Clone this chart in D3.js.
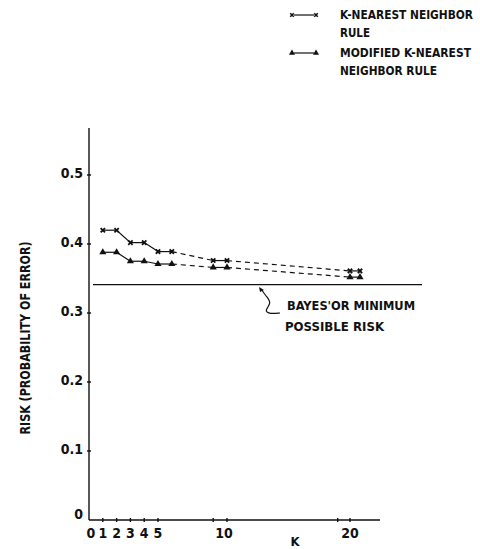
<!DOCTYPE html>
<html>
<head>
<meta charset="utf-8">
<script src="https://cdn.jsdelivr.net/npm/d3@7"></script>
<style>
  body { margin: 0; background: #fff; }
  text { font-family: "DejaVu Sans Condensed", "Liberation Sans Narrow", sans-serif; font-weight: bold; fill: #111; }
</style>
</head>
<body>
<div id="chart"></div>
<script>
// data
const kValues = [1, 2, 3, 4, 5, 6, 9, 10, 20, 21];
const knnRisk = [0.420, 0.420, 0.402, 0.402, 0.389, 0.389, 0.376, 0.376, 0.361, 0.361];
const modKnnRisk = [0.388, 0.388, 0.375, 0.375, 0.371, 0.371, 0.366, 0.366, 0.352, 0.352];
const bayesRisk = 0.341;
const yTicks = [0, 0.1, 0.2, 0.3, 0.4, 0.5];
const xTicks = [1, 2, 3, 4, 5, 9, 10, 19, 20];
const xTickLabels = { 0: "0", 1: "1", 2: "2", 3: "3", 4: "4", 5: "5", 10: "10", 20: "20" };
// segments: true = solid, false = dashed (between index i and i+1)
const solidSeg = [true, true, true, true, true, false, true, false, true];

const width = 480, height = 549;

const svg = d3.select("#chart")
  .append("svg")
    .attr("width", width)
    .attr("height", height);

// scales (the original's K axis is a bit squeezed past 10)
const x = d3.scaleLinear()
  .domain([0, 10, 20, 23])
  .range([89, 227, 350, 380]);

const y = d3.scaleLinear()
  .domain([0, 0.5])
  .range([520, 175]);

const ink = "#111";

// y axis line
svg.append("line")
  .attr("x1", x(0)).attr("x2", x(0))
  .attr("y1", y(0)).attr("y2", 128)
  .attr("stroke", ink).attr("stroke-width", 1.4);

// x axis line
svg.append("line")
  .attr("x1", x(0)).attr("x2", x(23))
  .attr("y1", y(0)).attr("y2", y(0))
  .attr("stroke", ink).attr("stroke-width", 1.4);

// y ticks
svg.selectAll(".ytick")
  .data(yTicks.filter(d => d > 0))
  .join("line")
    .attr("x1", x(0) - 2).attr("x2", x(0) + 2)
    .attr("y1", d => y(d)).attr("y2", d => y(d))
    .attr("stroke", ink).attr("stroke-width", 1.4);

svg.selectAll(".ylab")
  .data(yTicks)
  .join("text")
    .attr("x", x(0) - 6)
    .attr("y", d => d === 0 ? y(d) - 6 : y(d) - 2)
    .attr("dy", "0.35em")
    .attr("text-anchor", "end")
    .style("font-size", "14px")
    .text(d => d === 0 ? "0" : d3.format(".1f")(d));

// x ticks
svg.selectAll(".xtick")
  .data(xTicks)
  .join("line")
    .attr("x1", d => x(d)).attr("x2", d => x(d))
    .attr("y1", y(0) - 2).attr("y2", y(0) + 2)
    .attr("stroke", ink).attr("stroke-width", 1.4);

svg.selectAll(".xlab")
  .data(Object.keys(xTickLabels).map(Number))
  .join("text")
    .attr("x", d => x(d) + (d === 0 ? 2 : (d === 10 ? -3 : 0)))
    .attr("y", 538)
    .attr("text-anchor", "middle")
    .style("font-size", "14px")
    .text(d => xTickLabels[d]);

// axis titles
svg.append("text")
  .attr("x", 295)
  .attr("y", 546)
  .attr("text-anchor", "middle")
  .style("font-size", "13px")
  .text("K");

svg.append("text")
  .attr("transform", "translate(30,338) rotate(-90)")
  .attr("text-anchor", "middle")
  .attr("textLength", 193)
  .attr("lengthAdjust", "spacingAndGlyphs")
  .style("font-size", "14px")
  .text("RISK (PROBABILITY OF ERROR)");

// Bayes line
svg.append("line")
  .attr("x1", 93).attr("x2", 422)
  .attr("y1", y(bayesRisk)).attr("y2", y(bayesRisk))
  .attr("stroke", ink).attr("stroke-width", 1.3);

// series lines, piece by piece
function drawSeries(vals) {
  const pts = kValues.map((k, i) => ({ k: k, v: vals[i] }));
  const line = d3.line().x(d => x(d.k)).y(d => y(d.v));
  for (let i = 0; i < pts.length - 1; i++) {
    svg.append("path")
      .datum([pts[i], pts[i + 1]])
      .attr("fill", "none")
      .attr("stroke", ink)
      .attr("stroke-width", 1.2)
      .attr("stroke-dasharray", solidSeg[i] ? null : "5,4")
      .attr("d", line);
  }
  return pts;
}

const p1 = drawSeries(knnRisk);
const p2 = drawSeries(modKnnRisk);

const xSym = d3.symbol().type(d3.symbolX).size(14);
const triSym = d3.symbol().type(d3.symbolTriangle).size(22);

svg.selectAll(".m1")
  .data(p1)
  .join("path")
    .attr("transform", d => `translate(${x(d.k)},${y(d.v)})`)
    .attr("d", xSym)
    .attr("fill", "none")
    .attr("stroke", ink)
    .attr("stroke-width", 1.8);

svg.selectAll(".m2")
  .data(p2)
  .join("path")
    .attr("transform", d => `translate(${x(d.k)},${y(d.v)})`)
    .attr("d", triSym)
    .attr("fill", ink);

// annotation squiggle
const squiggle = d3.line().curve(d3.curveBasis);
svg.append("path")
  .attr("d", squiggle([[261, 289], [266, 296], [272, 303], [264, 311], [270, 314], [280, 313]]))
  .attr("fill", "none")
  .attr("stroke", ink)
  .attr("stroke-width", 1.2);
svg.append("path")
  .attr("d", "M259,287 L264,290 L260,292 Z")
  .attr("fill", ink);

svg.append("text")
  .attr("x", 287).attr("y", 305)
  .attr("dy", "0.35em")
  .attr("textLength", 128)
  .attr("lengthAdjust", "spacingAndGlyphs")
  .style("font-size", "13px")
  .text("BAYES'OR MINIMUM");
svg.append("text")
  .attr("x", 285).attr("y", 326)
  .attr("dy", "0.35em")
  .attr("textLength", 99)
  .attr("lengthAdjust", "spacingAndGlyphs")
  .style("font-size", "13px")
  .text("POSSIBLE RISK");

// legend
const legend = [
  { lines: ["K-NEAREST NEIGHBOR", "RULE"], widths: [133, 30], sym: "x", y: 15 },
  { lines: ["MODIFIED K-NEAREST", "NEIGHBOR RULE"], widths: [131, 97], sym: "tri", y: 53 }
];

legend.forEach(l => {
  svg.append("line")
    .attr("x1", 294).attr("x2", 314)
    .attr("y1", l.y).attr("y2", l.y)
    .attr("stroke", ink).attr("stroke-width", 1.2);
  [292, 316].forEach(px => {
    svg.append("path")
      .attr("transform", `translate(${px},${l.y})`)
      .attr("d", l.sym === "x" ? d3.symbol().type(d3.symbolX).size(10)() : d3.symbol().type(d3.symbolTriangle).size(16)())
      .attr("fill", l.sym === "x" ? "none" : ink)
      .attr("stroke", l.sym === "x" ? ink : null)
      .attr("stroke-width", 1.5);
  });
  l.lines.forEach((t, i) => {
    svg.append("text")
      .attr("x", 340)
      .attr("y", l.y + i * 18)
      .attr("dy", "0.35em")
      .attr("textLength", l.widths[i])
      .attr("lengthAdjust", "spacingAndGlyphs")
      .style("font-size", "12px")
      .text(t);
  });
});
</script>
</body>
</html>
